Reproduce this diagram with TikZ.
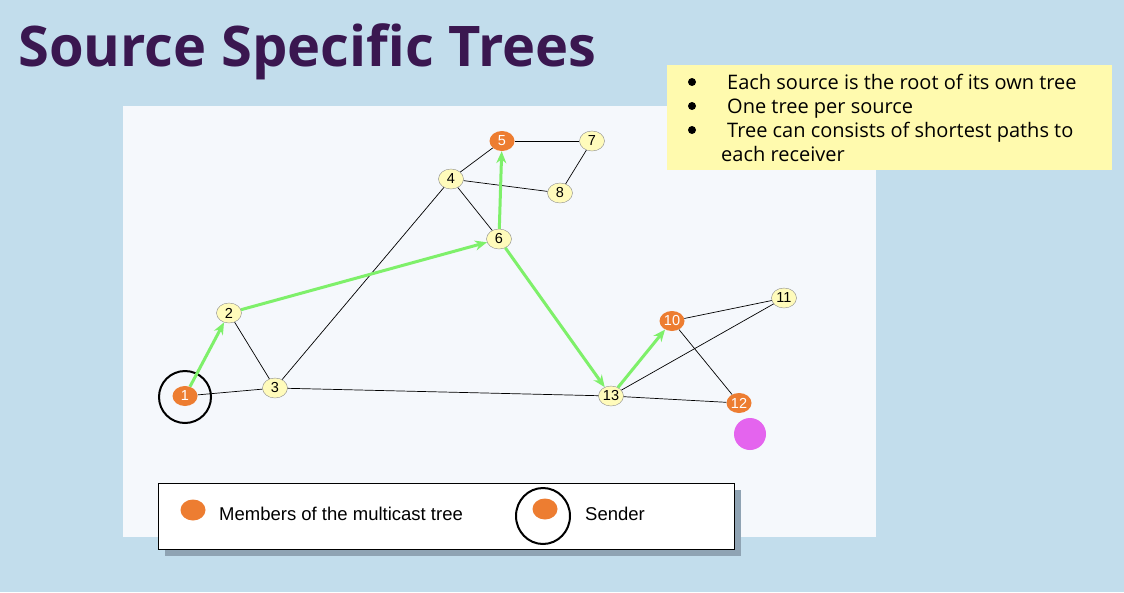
\documentclass[tikz,border=0pt]{standalone}
\usepackage{fontspec}
\setmainfont{Liberation Sans}
\newfontfamily\opensans{Open Sans}
\usetikzlibrary{arrows.meta,positioning,shapes.geometric}
\definecolor{sky}{HTML}{C2DDEC}
\definecolor{panel}{HTML}{F5F8FC}
\definecolor{plum}{HTML}{3A1750}
\definecolor{note}{HTML}{FFFAAE}
\definecolor{member}{HTML}{ED7D31}
\definecolor{router}{HTML}{FFFBBB}
\definecolor{treegreen}{HTML}{7EF06A}
\definecolor{rcv}{HTML}{E464EE}
\definecolor{shadowgray}{HTML}{8FA3B3}

\begin{document}
\begin{tikzpicture}[x=1pt,y=-1pt,
  rtr/.style={ellipse,draw=black!45,fill=router,minimum width=25pt,minimum height=20pt,inner sep=0pt,font=\fontsize{14.5}{14.5}\selectfont},
  mbr/.style={rtr,draw=none,fill=member,text=white},
  link/.style={draw=black,line width=0.7pt},
  hop/.style={-{Stealth[length=12pt,width=10pt]},line width=3pt,draw=treegreen},
  dot/.style={circle,fill=black,inner sep=0pt,minimum size=8pt},
  bullet/.style={anchor=base west,inner sep=0pt,font=\opensans\fontsize{20}{24}\selectfont},
  legtext/.style={anchor=base west,inner sep=0pt,font=\fontsize{18.5}{20}\selectfont}]
% slide background and panels
\fill[sky] (0,0) rectangle (1124,592);
\fill[panel] (123,106) rectangle (876,537);
\node[anchor=base west,inner sep=0pt,text=plum,font=\opensans\bfseries\fontsize{56}{60}\selectfont] (title) at (18,66) {Source Specific Trees};
% notes box
\node[anchor=north west,fill=note,minimum width=445pt,minimum height=105pt] (notes) at (667,65) {};
\node[dot] (d1) at (692,82) {};
\node[dot] (d2) at (692,106) {};
\node[dot] (d3) at (692,130) {};
\node[bullet] (n1) at (727,89) {Each source is the root of its own tree};
\node[bullet] (n2) at (727,113) {One tree per source};
\node[bullet] (n3) at (727,137) {Tree can consists of shortest paths to};
\node[bullet] (n4) at (721,161) {each receiver};
% routers
\node[mbr] (r1) at (185,396) {1};
\node[rtr] (r2) at (229,313) {2};
\node[rtr] (r3) at (275,388) {3};
\node[rtr] (r4) at (451,179) {4};
\node[mbr] (r5) at (502,141) {5};
\node[rtr] (r6) at (499,239) {6};
\node[rtr] (r7) at (592,141) {7};
\node[rtr] (r8) at (560,193) {8};
\node[mbr] (r10) at (672,321) {10};
\node[rtr] (r11) at (784,298) {11};
\node[mbr] (r12) at (739,403) {12};
\node[rtr] (r13) at (611,396) {13};
\node[circle,fill=rcv,minimum size=32pt,inner sep=0pt] (host) at (750,434) {};
\node[circle,draw=black,line width=2pt,minimum size=52pt,inner sep=0pt] (src) at (185,397) {};
% links
\draw[link] (r1)--(r3); \draw[link] (r2)--(r3); \draw[link] (r3)--(r4); \draw[link] (r3)--(r13);
\draw[link] (r4)--(r5); \draw[link] (r4)--(r6); \draw[link] (r4)--(r8); \draw[link] (r5)--(r7);
\draw[link] (r7)--(r8); \draw[link] (r10)--(r11); \draw[link] (r10)--(r12); \draw[link] (r13)--(r11);
\draw[link] (r13)--(r12);
% shortest path tree
\draw[hop] (r1)--(r2); \draw[hop] (r2)--(r6); \draw[hop] (r6)--(r5); \draw[hop] (r6)--(r13); \draw[hop] (r13)--(r10);
% legend
\fill[shadowgray] (165,490) rectangle (741,556);
\node[anchor=north west,draw=black,line width=1.2pt,fill=white,minimum width=576pt,minimum height=66pt] (legend) at (158,483) {};
\node[ellipse,fill=member,minimum width=25pt,minimum height=21pt,inner sep=0pt] (ldot) at (193,510) {};
\node[legtext] (ltxt) at (219,520) {Members of the multicast tree};
\node[ellipse,draw=black,line width=2pt,minimum width=54pt,minimum height=56pt,inner sep=0pt] (lring) at (543,516) {};
\node[ellipse,fill=member,minimum width=25pt,minimum height=21pt,inner sep=0pt] (ldot2) at (545,509) {};
\node[legtext] (lsnd) at (585,520) {Sender};
\end{tikzpicture}
\end{document}
